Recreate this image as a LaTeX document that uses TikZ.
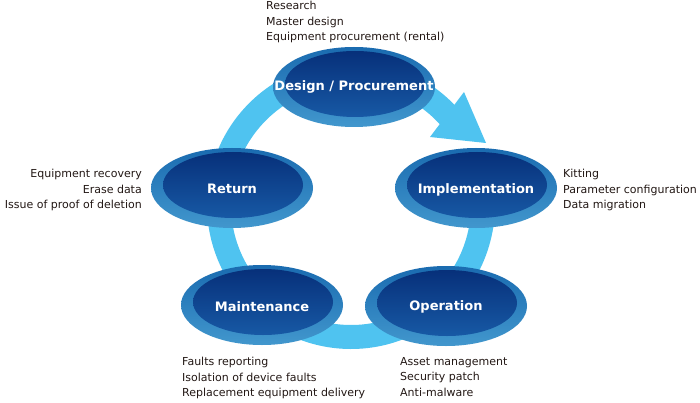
\documentclass[tikz,border=0pt]{standalone}
\usepackage{fontspec}
\setmainfont{DejaVu Sans}
\usetikzlibrary{shapes.geometric}
\definecolor{ringblue}{HTML}{4FC3F0}
\definecolor{outtop}{HTML}{1A6BB0}
\definecolor{outbot}{HTML}{4297CD}
\definecolor{intop}{HTML}{07307A}
\definecolor{inbot}{HTML}{1759A5}
\definecolor{txt}{HTML}{231815}
\begin{document}
\begin{tikzpicture}[x=1pt,y=1pt,
  outer/.style={ellipse, minimum width=162pt, minimum height=80pt, inner sep=0pt,
    top color=outtop, bottom color=outbot, draw=none},
  innerell/.style={ellipse, minimum width=140pt, minimum height=66pt, inner sep=0pt,
    top color=intop, bottom color=inbot, draw=none},
  lbl/.style={inner sep=0pt, text=white, font=\fontsize{13}{15}\selectfont\bfseries},
  desc/.style={inner sep=0pt, text=txt, font=\fontsize{11}{15.7}\selectfont},
  ringline/.style={draw=ringblue, line width=24pt},
]
\useasboundingbox (0,0) rectangle (700,402);
\fill[white] (0,0) rectangle (700,402);

% ring
\coordinate (rc) at (351,197);
\draw[ringline] (rc) ++(42:132) arc[start angle=42, end angle=375, radius=132];
\coordinate (ahA) at (464,310);
\coordinate (ahB) at (430,265);
\coordinate (ahT) at (486,259);
\fill[ringblue] (ahA) -- (ahB) -- (ahT) -- cycle;

% ellipses
\node[outer] (dO) at (354,315) {};
\node[innerell] (dI) at (355,318) {};
\node[lbl] (dL) at (354,315) {Design / Procurement};

\node[outer] (iO) at (476,214) {};
\node[innerell] (iI) at (477,217) {};
\node[lbl] (iL) at (476,212) {Implementation};

\node[outer] (rO) at (232,214) {};
\node[innerell] (rI) at (233,217) {};
\node[lbl] (rL) at (232,213) {Return};

\node[outer] (mO) at (262,97) {};
\node[innerell] (mI) at (263,100) {};
\node[lbl] (mL) at (262,95) {Maintenance};

\node[outer] (oO) at (446,96) {};
\node[innerell] (oI) at (447,99) {};
\node[lbl] (oL) at (446,95) {Operation};

% descriptions
\node[desc, anchor=north west, align=left] (dT) at (266,401)
  {Research\\Master design\\Equipment procurement (rental)};
\node[desc, anchor=north west, align=left] (iT) at (563,233)
  {Kitting\\Parameter configuration\\Data migration};
\node[desc, anchor=north east, align=right] (rT) at (142,233)
  {Equipment recovery\\Erase data\\Issue of proof of deletion};
\node[desc, anchor=north west, align=left] (mT) at (182,45)
  {Faults reporting\\Isolation of device faults\\Replacement equipment delivery};
\node[desc, anchor=north west, align=left] (oT) at (400,45)
  {Asset management\\Security patch\\Anti-malware};
\end{tikzpicture}
\end{document}
